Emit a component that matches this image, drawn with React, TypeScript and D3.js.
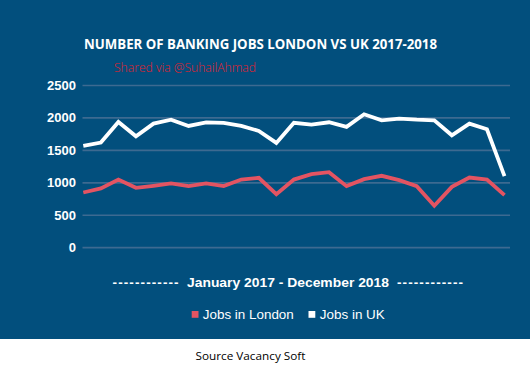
import React from "react";
import * as d3 from "d3";

const months = d3.range(25);
const londonJobs = [851, 913, 1051, 923, 954, 990, 949, 990, 949, 1051, 1077, 826, 1050, 1133, 1164, 949, 1056, 1108, 1041, 949, 646, 938, 1082, 1051, 810];
const ukJobs = [1569, 1620, 1938, 1718, 1913, 1974, 1877, 1933, 1923, 1877, 1800, 1615, 1925, 1897, 1933, 1862, 2056, 1964, 1990, 1974, 1964, 1733, 1913, 1826, 1103];
const yTicks = [0, 500, 1000, 1500, 2000, 2500];
const seriesNames = ["Jobs in London", "Jobs in UK"];
const title = "NUMBER OF BANKING JOBS LONDON VS UK 2017-2018";
const watermark = "Shared via @SuhailAhmad";
const xLabelDashes = "------------";
const xLabel = "January 2017 - December 2018";
const source = "Source Vacancy Soft";

const W = 530;
const H = 376;
const BG = "#024f7d";
const RED = "#e35462";
const GRID = "#3d6a91";

export default function App() {
  const x = d3.scaleLinear().domain([0, 24]).range([83.3, 504.5]);
  const y = d3.scaleLinear().domain([0, 2500]).range([247.7, 85.5]);
  const line = d3
    .line<number>()
    .x((_, i) => x(months[i]))
    .y((d) => y(d));
  const arial = "Liberation Sans, Arial, sans-serif";
  return (
    <svg
      width={W}
      height={H}
      style={{ position: "absolute", left: 0, top: 0, display: "block" }}
    >
      <rect x={0} y={0} width={W} height={H} fill="#ffffff" />
      <rect x={0} y={0} width={W} height={339} fill={BG} />
      <text
        x={84}
        y={49}
        fill="#ffffff"
        fontFamily="Open Sans, sans-serif"
        fontWeight={700}
        fontSize={13.5}
        textLength={353}
        lengthAdjust="spacingAndGlyphs"
      >
        {title}
      </text>
      <text
        x={114}
        y={72}
        fill="#e3202c"
        fontFamily="Open Sans, sans-serif"
        fontWeight={300}
        fontSize={12}
        textLength={142}
        lengthAdjust="spacingAndGlyphs"
      >
        {watermark}
      </text>
      {yTicks.map((t) => (
        <g key={t}>
          <line x1={82.5} x2={510} y1={y(t)} y2={y(t)} stroke={GRID} strokeWidth={1.7} />
          <text
            x={76}
            y={y(t)}
            dy="0.35em"
            textAnchor="end"
            fill="#ffffff"
            fontFamily={arial}
            fontWeight={700}
            fontSize={13}
          >
            {t}
          </text>
        </g>
      ))}
      <path d={line(ukJobs) || ""} fill="none" stroke="#ffffff" strokeWidth={3.8} strokeLinejoin="miter" />
      <path d={line(londonJobs) || ""} fill="none" stroke={RED} strokeWidth={3.8} strokeLinejoin="miter" />
      <g fill="#ffffff" fontFamily={arial} fontWeight={700} fontSize={13.5}>
        <text x={112.6} y={286.5} textLength={66} lengthAdjust="spacing">
          {xLabelDashes}
        </text>
        <text x={187} y={286.5} textLength={202} lengthAdjust="spacingAndGlyphs">
          {xLabel}
        </text>
        <text x={397} y={286.5} textLength={66} lengthAdjust="spacing">
          {xLabelDashes}
        </text>
      </g>
      <rect x={191.7} y={311} width={6.8} height={6.8} fill={RED} />
      <text
        x={202.8}
        y={319}
        fill="#ffffff"
        fontFamily={arial}
        fontSize={13.5}
        textLength={91}
        lengthAdjust="spacingAndGlyphs"
      >
        {seriesNames[0]}
      </text>
      <rect x={308.5} y={311} width={6.8} height={6.8} fill="#ffffff" />
      <text
        x={319.8}
        y={319}
        fill="#ffffff"
        fontFamily={arial}
        fontSize={13.5}
        textLength={65}
        lengthAdjust="spacingAndGlyphs"
      >
        {seriesNames[1]}
      </text>
      <text
        x={250.5}
        y={360}
        textAnchor="middle"
        fill="#000000"
        fontFamily="Open Sans, sans-serif"
        fontSize={11.5}
        textLength={110}
        lengthAdjust="spacingAndGlyphs"
      >
        {source}
      </text>
    </svg>
  );
}
